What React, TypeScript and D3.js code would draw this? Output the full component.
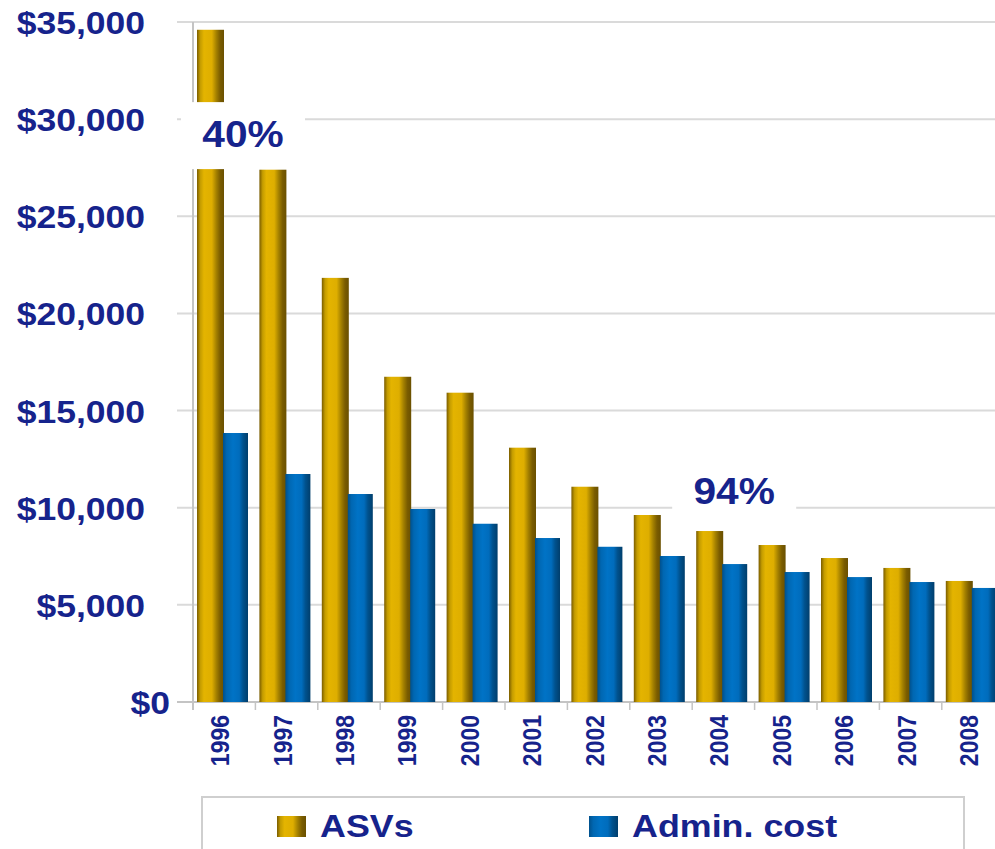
import React from 'react';
import * as d3 from 'd3';

// values
const years = ['1996', '1997', '1998', '1999', '2000', '2001', '2002', '2003', '2004', '2005', '2006', '2007', '2008'];
const asvs = [34600, 27400, 21830, 16740, 15920, 13090, 11080, 9625, 8800, 8080, 7410, 6900, 6230];
const adminCost = [13845, 11735, 10705, 9935, 9175, 8440, 7990, 7515, 7100, 6690, 6430, 6175, 5870];
const yTicks = [0, 5000, 10000, 15000, 20000, 25000, 30000, 35000];
const seriesKeys = ['asv', 'admin'];
const legendLabels = ['ASVs', 'Admin. cost'];
const annotations = [
  { text: '40%', year: '1996', value: 28560, dx: 50 },
  { text: '94%', year: '2004', value: 10190, dx: 42 },
];

const NAVY = '#16238c';
const FONT = '"Liberation Sans", Arial, sans-serif';

const App = () => {
  const W = 995;
  const H = 849;
  const left = 193;
  const bandW = 62.4;

  const x0 = d3.scaleBand<string>().domain(years).range([left, left + bandW * years.length]).padding(0);
  const x1 = d3.scaleBand<string>().domain(seriesKeys).range([4, 56]).padding(0);
  const y = d3.scaleLinear().domain([0, 35000]).range([702, 22]);

  const fmt = (v: number) => '$' + d3.format(',')(v);

  return (
    <svg width={W} height={H} style={{ position: 'absolute', left: 0, top: 0, background: '#fff' }}>
      <defs>
        <linearGradient id="gold" x1="0" x2="1" y1="0" y2="0">
          <stop offset="0%" stopColor="#7a5c00" />
          <stop offset="12%" stopColor="#c49c00" />
          <stop offset="26%" stopColor="#e4b400" />
          <stop offset="55%" stopColor="#deae00" />
          <stop offset="72%" stopColor="#a27f00" />
          <stop offset="86%" stopColor="#7a5c00" />
          <stop offset="100%" stopColor="#6a5000" />
        </linearGradient>
        <linearGradient id="blue" x1="0" x2="1" y1="0" y2="0">
          <stop offset="0%" stopColor="#00508c" />
          <stop offset="15%" stopColor="#0067b2" />
          <stop offset="40%" stopColor="#0073c6" />
          <stop offset="65%" stopColor="#006cbc" />
          <stop offset="80%" stopColor="#00528e" />
          <stop offset="100%" stopColor="#003e6c" />
        </linearGradient>
      </defs>

      {/* grid lines */}
      {yTicks.map((t) => (
        <line key={'g' + t} x1={177} x2={W} y1={y(t)} y2={y(t)}
          stroke={t === 0 ? '#c4c4c4' : '#dadada'} strokeWidth={2} />
      ))}
      {/* y axis line */}
      <line x1={left} x2={left} y1={y(35000)} y2={y(0) + 8} stroke="#c4c4c4" strokeWidth={2} />

      {/* y tick labels */}
      {yTicks.map((t) => (
        <text key={'yl' + t}
          transform={`translate(${t === 0 ? 170 : 145},${y(t) + 12}) scale(1.11,1)`}
          textAnchor="end" fontFamily={FONT} fontWeight="bold" fontSize={32} fill={NAVY}>
          {fmt(t)}
        </text>
      ))}

      {/* x ticks */}
      {years.map((yr) => (
        <line key={'xt' + yr} x1={x0(yr)!} x2={x0(yr)!} y1={y(0)} y2={y(0) + 8} stroke="#c4c4c4" strokeWidth={1.5} />
      ))}

      {/* bars */}
      {years.map((yr, i) => (
        <g key={'b' + yr} transform={`translate(${x0(yr)},0)`}>
          <rect x={x1('asv')} width={x1.bandwidth() + 1} y={y(asvs[i])} height={y(0) - y(asvs[i])} fill="url(#gold)" />
          <rect x={x1('admin')} width={x1.bandwidth() - 1} y={y(adminCost[i])} height={y(0) - y(adminCost[i])} fill="url(#blue)" />
        </g>
      ))}

      {/* percentage labels on white boxes */}
      {annotations.map((a) => {
        const cx = x0(a.year)! + a.dx;
        const by = y(a.value);
        return (
          <g key={a.text}>
            <rect x={cx - 62} y={by - 45} width={124} height={67} fill="#fff" />
            <text transform={`translate(${cx},${by}) scale(1.13,1)`} textAnchor="middle"
              fontFamily={FONT} fontWeight="bold" fontSize={36} fill={NAVY}>
              {a.text}
            </text>
          </g>
        );
      })}

      {/* x labels */}
      {years.map((yr) => (
        <text key={'xl' + yr}
          transform={`translate(${x0(yr)! + x0.bandwidth() / 2 - 4},715) scale(1.12,1) rotate(-90)`}
          textAnchor="end" dominantBaseline="central"
          fontFamily={FONT} fontWeight="bold" fontSize={23} fill={NAVY}>
          {yr}
        </text>
      ))}

      {/* legend */}
      <rect x={202} y={797} width={762} height={80} fill="#fff" stroke="#cfcfcf" strokeWidth={2} />
      {legendLabels.map((lab, i) => {
        const sx = i === 0 ? 277 : 589;
        return (
          <g key={lab}>
            <rect x={sx} y={816} width={29} height={21} fill={i === 0 ? 'url(#gold)' : 'url(#blue)'} />
            <text transform={`translate(${sx + 43},837) scale(1.12,1)`} fontFamily={FONT}
              fontWeight="bold" fontSize={32} fill={NAVY}>
              {lab}
            </text>
          </g>
        );
      })}
    </svg>
  );
};

export default App;
